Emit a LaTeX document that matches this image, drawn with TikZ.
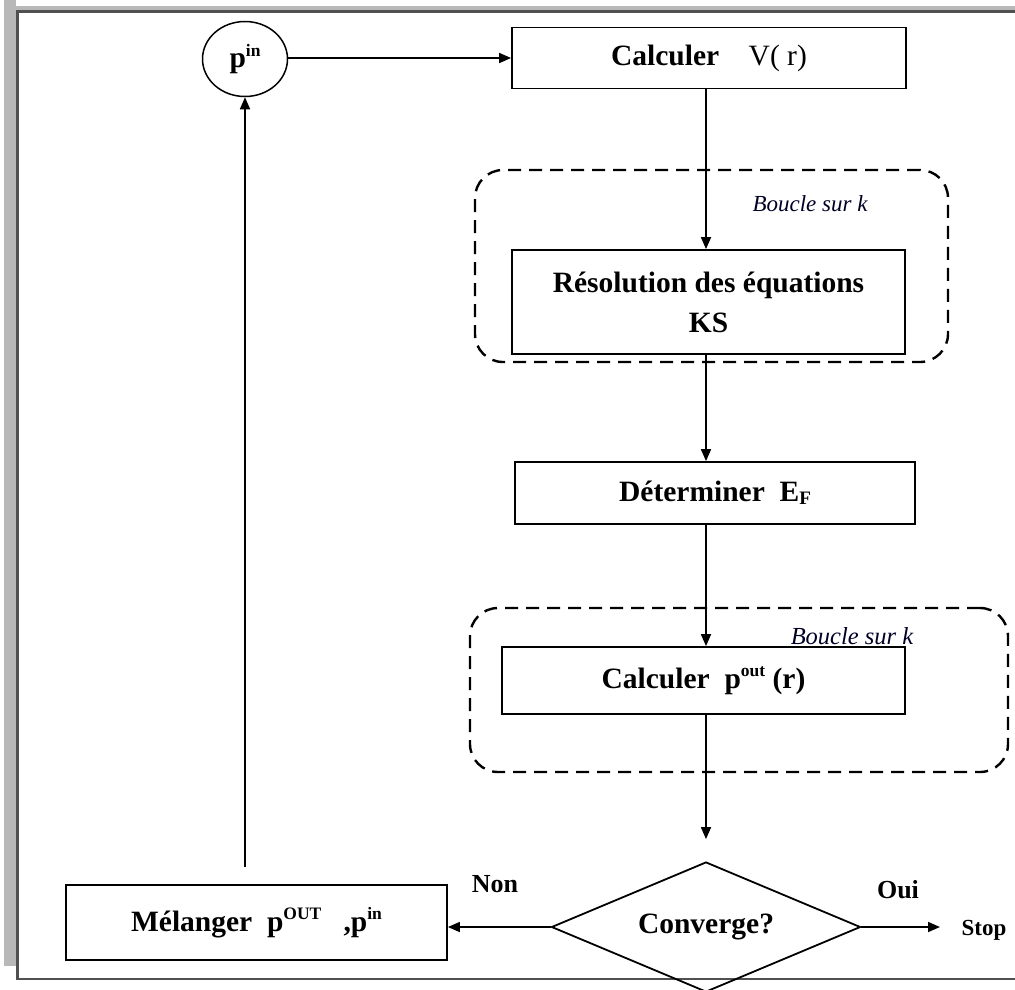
\documentclass[tikz,border=0pt]{standalone}
\usepackage{fontspec}
\setmainfont{Liberation Serif}
\usetikzlibrary{shapes.geometric,arrows.meta}
\newcommand\upsc[1]{\raisebox{0.85ex}{\fontsize{17.5}{17.5}\selectfont #1}}
\newcommand\dnsc[1]{\raisebox{-0.2ex}{\fontsize{19}{19}\selectfont #1}}
\definecolor{shadowgray}{RGB}{184,184,184}
\definecolor{framegray}{RGB}{80,80,80}
\begin{document}
\begin{tikzpicture}[x=1pt,y=-1pt,
  box/.style={draw, line width=1.8pt, inner sep=0pt, align=center,
    font=\fontsize{29.5}{40}\selectfont\bfseries},
  loopbox/.style={draw, line width=2.4pt, dash pattern=on 13pt off 8pt,
    rounded corners=28pt, inner sep=0pt},
  arr/.style={line width=1.7pt, -{Triangle[length=12pt,width=10pt]}},
  lbl/.style={font=\fontsize{23}{26}\selectfont\itshape, text=black!85!blue, inner sep=0pt},
  side/.style={font=\fontsize{26}{28}\selectfont\bfseries, inner sep=0pt}]
\useasboundingbox (0,0) rectangle (1015,989);
% frame
\fill[shadowgray] (4,0) rectangle (16,966);
\fill[shadowgray] (16,6) rectangle (1015,10);
\draw[framegray, line width=2.6pt] (1015,11.5) -- (17.5,11.5) -- (17.5,979) -- (1015,979);
% axis
\coordinate (axis) at (706,0);
% loops
\node[loopbox, minimum width=473pt, minimum height=192pt] (loopA) at (711.5,266) {};
\node[loopbox, minimum width=538pt, minimum height=164pt] (loopB) at (739,690) {};
\node[lbl] (lblA) at (810,204) {Boucle sur k};
\node[lbl, font=\fontsize{24.5}{26}\selectfont\itshape] (lblB) at (852,636) {Boucle sur k};
% nodes
\node[draw, ellipse, line width=1.5pt, minimum width=85pt, minimum height=75pt, inner sep=0pt,
  font=\fontsize{29.5}{32}\selectfont\bfseries] (pin) at (245,59) {p\upsc{in}};
\node[box, minimum width=394pt, minimum height=61pt] (calcV) at (709,58)
  {Calculer\quad \mdseries V( r)};
\node[box, minimum width=393pt, minimum height=104pt] (ks) at (708.5,302)
  {Résolution des équations\\KS};
\node[box, minimum width=400pt, minimum height=62pt] (det) at (715,493)
  {Déterminer\ \ E\dnsc{F}};
\node[box, minimum width=403pt, minimum height=67pt] (pout) at (703.5,680.5)
  {Calculer\ \ p\upsc{out} (r)};
\node[draw, diamond, aspect=2.38, line width=1.8pt, minimum width=309pt, minimum height=130pt,
  inner sep=0pt, font=\fontsize{29.5}{32}\selectfont\bfseries] (dia) at (706,927) {Converge?};
\node[box, minimum width=381pt, minimum height=75pt] (mel) at (256.5,922.5)
  {Mélanger\ \ p\upsc{OUT}\ \ \ ,p\upsc{in}};
\node[side] (non) at (495,884) {Non};
\node[side] (oui) at (898,890) {Oui};
\node[side, font=\fontsize{23}{25}\selectfont\bfseries] (stop) at (984,930) {Stop};
\coordinate (stoparr) at (940,927);
% connectors
\draw[arr] (pin.east |- calcV.west) -- (calcV.west);
\draw[arr] (calcV.south -| axis) -- (ks.north -| axis);
\draw[arr] (ks.south -| axis) -- (det.north -| axis);
\draw[arr] (det.south -| axis) -- (pout.north -| axis);
\draw[arr, shorten >=22pt] (pout.south -| axis) -- (dia.north);
\draw[arr] (dia.west) -- (dia.west -| mel.east);
\draw[arr] (dia.east) -- (stoparr);
\draw[arr, shorten <=17pt] (mel.north -| pin.south) -- (pin.south);
\end{tikzpicture}
\end{document}
